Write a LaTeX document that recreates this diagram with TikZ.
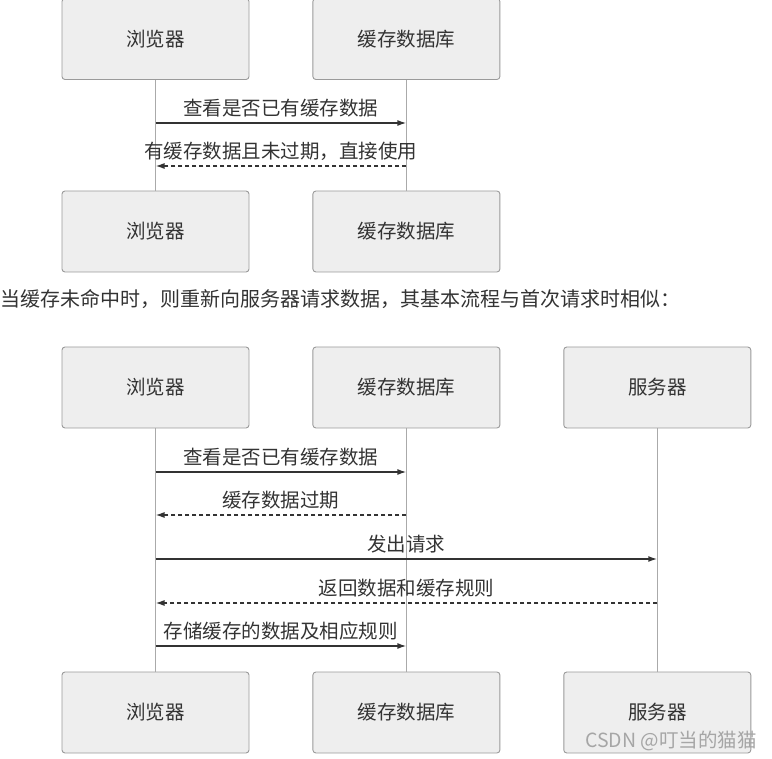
\documentclass[tikz,border=0pt]{standalone}
\usepackage{fontspec}
\setmainfont{Noto Sans CJK SC}
\usepackage{tikz}
\usetikzlibrary{arrows.meta,positioning}
\definecolor{boxfill}{HTML}{EEEEEE}
\definecolor{boxline}{HTML}{9A9A9A}
\definecolor{lifeline}{HTML}{AAAAAA}
\definecolor{ink}{HTML}{333333}

\begin{document}
\begin{tikzpicture}[x=1pt, y=-1pt,
    node distance=0pt and 63pt,
    actor/.style={rectangle, draw=boxline, fill=boxfill, rounded corners=3pt, line width=0.9pt, minimum width=187pt, minimum height=81pt, inner sep=0pt, font=\fontsize{19.5}{22}\selectfont, text=ink},
    life/.style={draw=lifeline, line width=1pt},
    msg/.style={-{Latex[length=9pt,width=6pt]}, draw=ink, line width=1.5pt},
    reply/.style={msg, dash pattern=on 4pt off 3pt},
    lbl/.style={font=\fontsize{19.5}{22}\selectfont, text=ink, inner sep=0pt, above=5pt},
]
    \useasboundingbox (0,0) rectangle (772,759);

    % first diagram: cache hit
    \node[actor] (browserA) at (155.5,39) {浏览器};
    \node[actor, right=of browserA] (cacheA) {缓存数据库};
    \node[actor] (browserB) at (155.5,231.5) {浏览器};
    \node[actor, right=of browserB] (cacheB) {缓存数据库};

    \draw[life] (browserA.south) -- (browserB.north);
    \draw[life] (cacheA.south) -- (cacheB.north);

    \coordinate (hit1) at (0,123);
    \coordinate (hit2) at (0,166);
    \draw[msg] (browserA |- hit1) -- node[lbl] {查看是否已有缓存数据} (cacheA |- hit1);
    \draw[reply] (cacheA |- hit2) -- node[lbl] {有缓存数据且未过期，直接使用} (browserA |- hit2);

    \node[anchor=west, inner sep=0pt, font=\fontsize{20}{22}\selectfont, text=ink] (intro) at (0,299) {当缓存未命中时，则重新向服务器请求数据，其基本流程与首次请求时相似：};

    % second diagram: cache miss
    \node[actor] (browserC) at (155.5,387.5) {浏览器};
    \node[actor, right=of browserC] (cacheC) {缓存数据库};
    \node[actor, right=of cacheC] (serverC) {服务器};
    \node[actor] (browserD) at (155.5,712.5) {浏览器};
    \node[actor, right=of browserD] (cacheD) {缓存数据库};
    \node[actor, right=of cacheD] (serverD) {服务器};

    \draw[life] (browserC.south) -- (browserD.north);
    \draw[life] (cacheC.south) -- (cacheD.north);
    \draw[life] (serverC.south) -- (serverD.north);

    \coordinate (miss1) at (0,472);
    \coordinate (miss2) at (0,515);
    \coordinate (miss3) at (0,559);
    \coordinate (miss4) at (0,603);
    \coordinate (miss5) at (0,646);
    \draw[msg] (browserC |- miss1) -- node[lbl] {查看是否已有缓存数据} (cacheC |- miss1);
    \draw[reply] (cacheC |- miss2) -- node[lbl] {缓存数据过期} (browserC |- miss2);
    \draw[msg] (browserC |- miss3) -- node[lbl] {发出请求} (serverC |- miss3);
    \draw[reply] (serverC |- miss4) -- node[lbl] {返回数据和缓存规则} (browserC |- miss4);
    \draw[msg] (browserC |- miss5) -- node[lbl] {存储缓存的数据及相应规则} (cacheC |- miss5);

    \node[font=\fontsize{19.5}{22}\selectfont, text=black!35, inner sep=0pt] (mark) at (671,741) {CSDN @叮当的猫猫};
\end{tikzpicture}
\end{document}
